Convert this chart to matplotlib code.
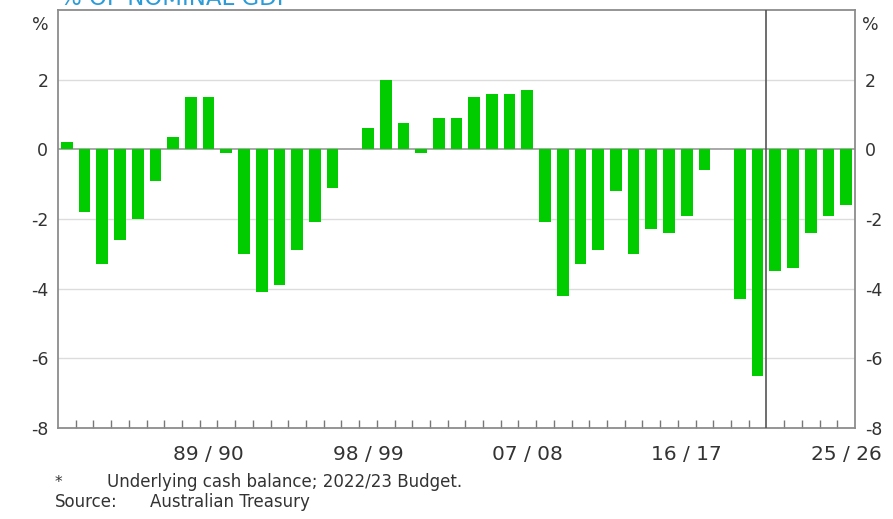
import matplotlib
matplotlib.use("Agg")
import matplotlib.pyplot as plt
import numpy as np

# underlying cash balance, % of nominal GDP, 1981/82 .. 2025/26
start_years = list(range(1981, 2026))
balance = [0.2, -1.8, -3.3, -2.6, -2.0, -0.9, 0.35, 1.5, 1.5, -0.1,
           -3.0, -4.1, -3.9, -2.9, -2.1, -1.1, 0.0, 0.6, 2.0, 0.75,
           -0.1, 0.9, 0.9, 1.5, 1.6, 1.6, 1.7, -2.1, -4.2, -3.3,
           -2.9, -1.2, -3.0, -2.3, -2.4, -1.9, -0.6, 0.0, -4.3, -6.5,
           -3.5, -3.4, -2.4, -1.9, -1.6]
label_years = [1989, 1998, 2007, 2016, 2025]
tick_labels = ['89 / 90', '98 / 99', '07 / 08', '16 / 17', '25 / 26']
forecast_from = 2021  # budget estimates start here
y_ticks = [-8, -6, -4, -2, 0, 2]

BAR = '#00cc00'
TXT = '#333333'
FRAME = '#8c8c8c'

plt.rcParams['font.family'] = ['DejaVu Sans']

fig = plt.figure(figsize=(8.93, 5.19), dpi=100)
ax = fig.add_axes([58 / 893, 91 / 519, 797 / 893, 418 / 519])

x = np.arange(len(start_years))
ax.bar(x, balance, width=0.66, color=BAR, zorder=3)

ax.set_xlim(-0.5, len(start_years) - 0.5)
ax.set_ylim(-8, 4)

for y in y_ticks:
    if y == 0:
        ax.axhline(y, color='#9a9a9a', lw=1.2, zorder=2)
    elif y > -8:
        ax.axhline(y, color='#dcdcdc', lw=1.0, zorder=1)

# budget forecast divider
vx = start_years.index(forecast_from) - 0.5
ax.axvline(vx, color='#555555', lw=1.2, zorder=4)

for side in ax.spines.values():
    side.set_color(FRAME)
    side.set_linewidth(1.3)

ax.set_yticks(y_ticks)
ax.set_yticklabels([str(v) for v in y_ticks])
ax.tick_params(axis='y', length=0, pad=7, labelsize=12.5, colors=TXT,
               labelright=True, right=False)

ax.set_xticks([start_years.index(yr) for yr in label_years])
ax.set_xticklabels(tick_labels)
ax.set_xticks([i + 0.5 for i in range(len(start_years) - 1) if i + 0.5 != vx], minor=True)
ax.tick_params(axis='x', which='major', length=0, pad=12, labelsize=14.5, colors=TXT)
ax.tick_params(axis='x', which='minor', direction='in', length=6, width=1, color='#777777')

ax.text(-0.012, 0.985, '%', transform=ax.transAxes, ha='right', va='top',
        fontsize=12.5, color=TXT)
ax.text(1.009, 0.985, '%', transform=ax.transAxes, ha='left', va='top',
        fontsize=12.5, color=TXT)

fig.text(60 / 893, 1 - 5 / 519, '% OF NOMINAL GDP', ha='left', va='baseline',
         fontsize=16.5, color='#2b9cd8')

fig.text(55 / 893, 1 - 487 / 519, '*', ha='left', va='baseline', fontsize=11, color=TXT)
fig.text(107 / 893, 1 - 487 / 519, 'Underlying cash balance; 2022/23 Budget.',
         ha='left', va='baseline', fontsize=12, color=TXT)
fig.text(55 / 893, 1 - 507 / 519, 'Source:', ha='left', va='baseline',
         fontsize=12, color=TXT)
fig.text(150 / 893, 1 - 507 / 519, 'Australian Treasury', ha='left', va='baseline',
         fontsize=12, color=TXT)

fig.savefig('out.png', dpi=100)
